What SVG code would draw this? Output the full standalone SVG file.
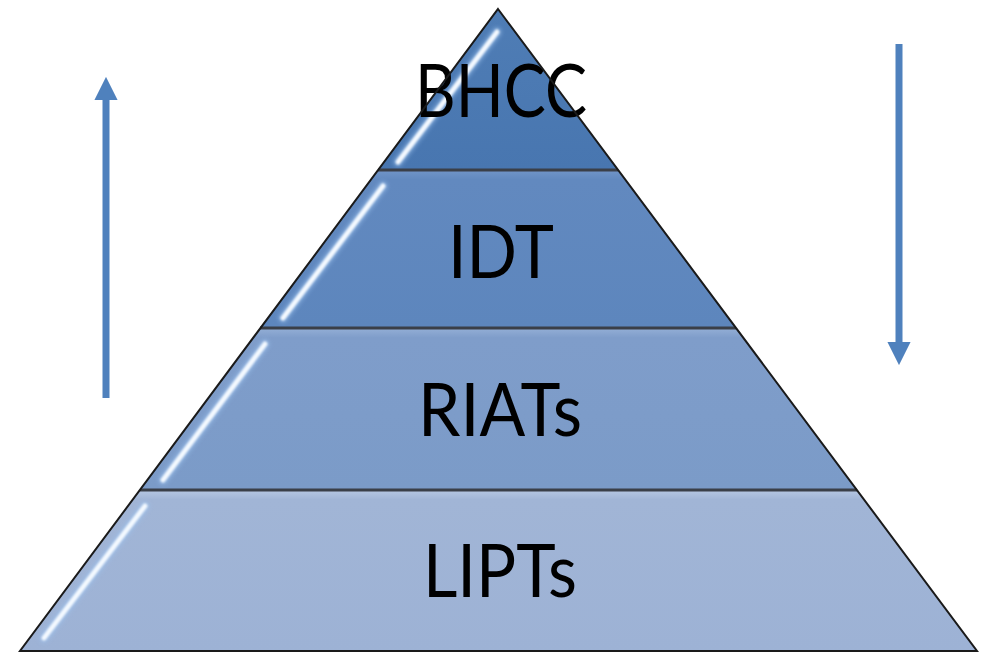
<svg xmlns="http://www.w3.org/2000/svg" width="984" height="654" viewBox="0 0 984 654">
<defs>
<style>
.lbl{font-family:Lato,"Open Sans","Liberation Sans",sans-serif;font-size:74px;fill:#000;text-anchor:middle}
.edge{fill:none;stroke:#1a1a1a;stroke-width:2}
.div{stroke:#3a3f48;stroke-width:3}
.hl{stroke:#f4f9ff;stroke-width:5;stroke-linecap:round;fill:none;filter:url(#blur)}
.glow{stroke:#9cc3f0;stroke-width:9;stroke-linecap:round;fill:none;opacity:0.6;filter:url(#blur2)}
.arr{stroke:#4f81bd;stroke-width:7;fill:none}
</style>
<filter id="blur" x="-20%" y="-20%" width="140%" height="140%"><feGaussianBlur stdDeviation="0.8"/></filter>
<filter id="blur2" x="-20%" y="-20%" width="140%" height="140%"><feGaussianBlur stdDeviation="2"/></filter>
<linearGradient id="g1" x1="0" y1="0" x2="0" y2="1"><stop offset="0" stop-color="#4f7db5"/><stop offset="1" stop-color="#4876b0"/></linearGradient>
<linearGradient id="g2" x1="0" y1="0" x2="0" y2="1"><stop offset="0" stop-color="#7195c8"/><stop offset="0.06" stop-color="#6289bf"/><stop offset="1" stop-color="#5d86bd"/></linearGradient>
<linearGradient id="g3" x1="0" y1="0" x2="0" y2="1"><stop offset="0" stop-color="#94afd6"/><stop offset="0.06" stop-color="#7f9dca"/><stop offset="1" stop-color="#7b9bc8"/></linearGradient>
<linearGradient id="g4" x1="0" y1="0" x2="0" y2="1"><stop offset="0" stop-color="#b6c7e2"/><stop offset="0.06" stop-color="#a1b5d6"/><stop offset="1" stop-color="#9db2d5"/></linearGradient>
<marker id="ah" viewBox="0 0 10 10" refX="0" refY="5" markerWidth="3.3" markerHeight="3.3" markerUnits="strokeWidth" orient="auto"><path d="M0,0 L10,5 L0,10 Z" fill="#4f81bd"/></marker>
</defs>
<rect width="984" height="654" fill="#ffffff"/>
<g id="layer-bhcc">
<polygon points="498,9 378,170 618,170" fill="url(#g1)"/>
<line class="glow" x1="497" y1="32" x2="398" y2="162"/>
<line class="hl" x1="497" y1="32" x2="398" y2="162"/>
<text class="lbl" x="501" y="117" textLength="172" lengthAdjust="spacingAndGlyphs">BHCC</text>
</g>
<g id="layer-idt">
<polygon points="378,170 618,170 736,328 260,328" fill="url(#g2)"/>
<line class="glow" x1="383" y1="186" x2="283" y2="318"/>
<line class="hl" x1="383" y1="186" x2="283" y2="318"/>
<text class="lbl" x="501" y="278" textLength="106" lengthAdjust="spacingAndGlyphs">IDT</text>
</g>
<g id="layer-riats">
<polygon points="260,328 736,328 857,490 140,490" fill="url(#g3)"/>
<line class="glow" x1="265" y1="344" x2="163" y2="480"/>
<line class="hl" x1="265" y1="344" x2="163" y2="480"/>
<text class="lbl" x="500" y="436" textLength="164" lengthAdjust="spacingAndGlyphs">RIATs</text>
</g>
<g id="layer-lipts">
<polygon points="140,490 857,490 977,651 20,651" fill="url(#g4)"/>
<line class="glow" x1="145" y1="506" x2="44" y2="638"/>
<line class="hl" x1="145" y1="506" x2="44" y2="638"/>
<text class="lbl" x="500" y="597" textLength="154" lengthAdjust="spacingAndGlyphs">LIPTs</text>
</g>
<g id="outline">
<line class="div" x1="378" y1="170" x2="618" y2="170"/>
<line class="div" x1="260" y1="328" x2="736" y2="328"/>
<line class="div" x1="140" y1="490" x2="857" y2="490"/>
<polygon class="edge" points="498,9 977,651 20,651"/>
</g>
<g id="connectors">
<line class="arr" x1="106" y1="398" x2="106" y2="100" marker-end="url(#ah)"/>
<line class="arr" x1="899" y1="44" x2="899" y2="342" marker-end="url(#ah)"/>
</g>
</svg>
